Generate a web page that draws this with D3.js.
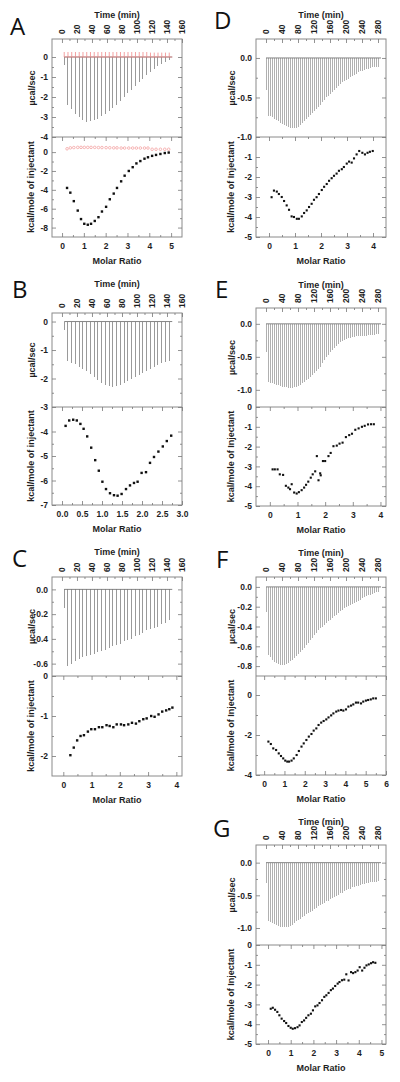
<!DOCTYPE html>
<html><head><meta charset="utf-8">
<script src="https://cdn.jsdelivr.net/npm/d3@7"></script>
<style>body{margin:0;background:#fff}svg{display:block}</style>
</head><body>
<svg id="c" width="400" height="1082"></svg>
<script>
// ---------- DATA ----------
const timeTicksLeft = [0,20,40,60,80,100,120,140,160];
const timeTicksRight = [0,40,80,120,160,200,240,280];

// injection times (min)
const injTimes150 = [3,8,13,18,23,28,33,38,43,48,53,58,63,68,73,78,83,88,93,98,103,108,113,118,123,128,133,138,143];
const injTimes280 = [0,5,10,15,20,25,30,35,40,45,50,55,60,65,70,75,80,85,90,95,100,105,110,115,120,125,130,135,140,145,150,155,160,165,170,175,180,185,190,195,200,205,210,215,220,225,230,235,240,245,250,255,260,265,270,275,280];

// raw heat peaks (µcal/sec)
const peaksA = [-0.4,-2.4,-2.6,-2.85,-3.0,-3.15,-3.25,-3.22,-3.15,-3.08,-2.95,-2.83,-2.7,-2.55,-2.4,-2.2,-2.0,-1.82,-1.65,-1.45,-1.27,-1.08,-0.9,-0.75,-0.6,-0.45,-0.35,-0.25,-0.15];
const peaksARef = [0.25,0.25,0.25,0.25,0.25,0.25,0.25,0.25,0.25,0.25,0.25,0.25,0.25,0.25,0.25,0.25,0.25,0.25,0.25,0.25,0.25,0.25,0.25,0.22,0.22,0.22,0.22,0.22,0.22];
const peaksB = [-0.3,-1.4,-1.45,-1.5,-1.58,-1.65,-1.75,-1.85,-1.95,-2.05,-2.15,-2.22,-2.28,-2.3,-2.28,-2.22,-2.15,-2.08,-2.0,-1.95,-1.88,-1.8,-1.73,-1.65,-1.58,-1.52,-1.47,-1.43,-1.4];
const peaksC = [-0.15,-0.62,-0.6,-0.58,-0.56,-0.55,-0.54,-0.53,-0.52,-0.51,-0.5,-0.49,-0.47,-0.46,-0.45,-0.44,-0.42,-0.41,-0.4,-0.38,-0.37,-0.35,-0.33,-0.32,-0.31,-0.3,-0.28,-0.27,-0.25];
const peaksD = [-0.40,-0.73,-0.74,-0.75,-0.77,-0.78,-0.80,-0.82,-0.83,-0.85,
  -0.86,-0.87,-0.88,-0.89,-0.89,-0.88,-0.87,-0.85,-0.82,-0.80,
  -0.77,-0.75,-0.72,-0.70,-0.67,-0.64,-0.62,-0.59,-0.56,-0.53,
  -0.50,-0.48,-0.45,-0.43,-0.40,-0.38,-0.35,-0.33,-0.31,-0.29,
  -0.28,-0.26,-0.24,-0.23,-0.21,-0.20,-0.18,-0.17,-0.16,-0.15,
  -0.14,-0.14,-0.13,-0.12,-0.12,-0.11,-0.11];
const peaksE = [-0.42,-0.88,-0.89,-0.90,-0.91,-0.92,-0.93,-0.94,-0.95,-0.96,
  -0.96,-0.97,-0.97,-0.97,-0.96,-0.95,-0.94,-0.92,-0.90,-0.88,
  -0.85,-0.83,-0.80,-0.77,-0.75,-0.72,-0.69,-0.65,-0.60,-0.55,
  -0.50,-0.47,-0.43,-0.40,-0.37,-0.34,-0.31,-0.28,-0.26,-0.24,
  -0.23,-0.22,-0.21,-0.20,-0.20,-0.19,-0.19,-0.19,-0.18,-0.18,
  -0.18,-0.17,-0.17,-0.17,-0.17,-0.16,-0.16];
const peaksF = [-0.25,-0.69,-0.71,-0.74,-0.76,-0.77,-0.78,-0.79,-0.79,-0.79,
  -0.78,-0.77,-0.75,-0.74,-0.72,-0.70,-0.68,-0.66,-0.64,-0.62,
  -0.59,-0.57,-0.54,-0.52,-0.49,-0.47,-0.44,-0.42,-0.40,-0.38,
  -0.36,-0.34,-0.33,-0.31,-0.29,-0.28,-0.26,-0.24,-0.23,-0.21,
  -0.20,-0.19,-0.18,-0.17,-0.16,-0.15,-0.14,-0.13,-0.11,-0.10,
  -0.09,-0.08,-0.08,-0.07,-0.06,-0.05,-0.05];
const peaksG = [-0.31,-0.90,-0.91,-0.93,-0.94,-0.96,-0.97,-0.98,-0.99,-0.99,
  -0.99,-0.98,-0.97,-0.95,-0.93,-0.90,-0.88,-0.86,-0.83,-0.81,
  -0.79,-0.77,-0.76,-0.74,-0.71,-0.69,-0.67,-0.65,-0.63,-0.61,
  -0.59,-0.58,-0.56,-0.54,-0.52,-0.51,-0.49,-0.47,-0.46,-0.44,
  -0.42,-0.41,-0.40,-0.38,-0.37,-0.36,-0.35,-0.34,-0.33,-0.32,
  -0.31,-0.31,-0.30,-0.30,-0.29,-0.29,-0.28];

// integrated heats (kcal/mole of injectant) vs molar ratio
const ratioA = [0.23,0.38,0.54,0.72,0.87,1.02,1.18,1.33,1.5,1.67,1.83,2.02,2.19,2.37,2.52,2.71,2.87,3.06,3.24,3.41,3.59,3.78,3.94,4.13,4.31,4.51,4.71,4.89];
const heatA = [-3.8,-4.3,-5.2,-6.2,-7.1,-7.6,-7.7,-7.6,-7.3,-6.9,-6.3,-5.8,-5.0,-4.4,-3.8,-3.1,-2.5,-2.0,-1.6,-1.2,-0.95,-0.7,-0.55,-0.4,-0.3,-0.2,-0.1,-0.05];
const heatARef = [0.35,0.45,0.48,0.5,0.5,0.5,0.5,0.5,0.5,0.48,0.48,0.47,0.46,0.45,0.45,0.43,0.43,0.43,0.43,0.43,0.43,0.43,0.43,0.3,0.3,0.3,0.3,0.3];

const ratioB = [0.09,0.18,0.28,0.37,0.46,0.54,0.63,0.73,0.83,0.92,1.01,1.1,1.2,1.3,1.39,1.49,1.6,1.7,1.8,1.89,1.99,2.1,2.2,2.3,2.41,2.52,2.62,2.73];
const heatB = [-3.77,-3.55,-3.52,-3.55,-3.69,-3.89,-4.2,-4.66,-5.17,-5.6,-6.05,-6.35,-6.52,-6.6,-6.62,-6.55,-6.35,-6.2,-6.1,-6.05,-5.69,-5.66,-5.28,-5.04,-4.82,-4.61,-4.39,-4.17];

const ratioC = [0.25,0.37,0.49,0.61,0.73,0.87,0.99,1.12,1.26,1.38,1.53,1.64,1.77,1.89,2.04,2.15,2.3,2.43,2.57,2.69,2.83,2.95,3.11,3.23,3.37,3.5,3.64,3.75,3.86];
const heatC = [-1.98,-1.79,-1.61,-1.5,-1.48,-1.39,-1.33,-1.33,-1.28,-1.28,-1.23,-1.25,-1.28,-1.21,-1.21,-1.23,-1.21,-1.17,-1.19,-1.13,-1.08,-1.06,-1.0,-1.02,-0.96,-0.89,-0.86,-0.83,-0.79];

const ratioD = [0.1,0.19,0.3,0.38,0.49,0.58,0.68,0.77,0.87,0.96,1.07,1.15,1.26,1.35,1.45,1.54,1.64,1.73,1.83,1.92,2.03,2.12,2.22,2.31,2.41,2.5,2.6,2.69,2.8,2.88,2.99,3.08,3.18,3.27,3.37,3.47,3.59,3.69,3.79,3.88,3.99];
const heatD = [-3.01,-2.68,-2.73,-2.85,-3.0,-3.2,-3.42,-3.64,-3.97,-4.0,-4.09,-4.09,-3.97,-3.8,-3.67,-3.5,-3.34,-3.14,-3.01,-2.85,-2.65,-2.49,-2.35,-2.19,-2.06,-1.94,-1.83,-1.69,-1.61,-1.5,-1.33,-1.23,-1.28,-1.07,-0.87,-0.7,-0.79,-0.87,-0.79,-0.74,-0.7];

const ratioE = [0.1,0.18,0.28,0.36,0.48,0.58,0.67,0.73,0.79,0.88,0.97,1.05,1.15,1.24,1.31,1.39,1.48,1.55,1.64,1.7,1.76,1.82,1.84,1.92,2.0,2.12,2.2,2.3,2.42,2.52,2.63,2.75,2.87,2.97,3.09,3.21,3.33,3.43,3.55,3.66,3.76];
const heatE = [-3.15,-3.15,-3.15,-3.4,-3.43,-3.98,-4.07,-4.15,-3.9,-4.32,-4.37,-4.3,-4.2,-4.07,-3.93,-3.77,-3.57,-3.4,-3.25,-2.48,-3.7,-3.35,-3.45,-2.73,-2.73,-2.48,-2.32,-1.98,-1.95,-1.85,-1.8,-1.52,-1.42,-1.35,-1.15,-1.08,-1.0,-0.95,-0.88,-0.87,-0.87];

const ratioF = [0.21,0.33,0.45,0.59,0.72,0.83,0.94,1.04,1.14,1.23,1.35,1.46,1.6,1.71,1.84,1.95,2.08,2.2,2.33,2.44,2.57,2.68,2.81,2.93,3.06,3.17,3.3,3.41,3.55,3.66,3.79,3.9,4.03,4.15,4.28,4.39,4.52,4.63,4.77,4.88,5.01,5.12,5.25,5.37,5.5];
const heatF = [-2.33,-2.45,-2.67,-2.75,-2.92,-3.05,-3.17,-3.28,-3.33,-3.33,-3.28,-3.17,-3.0,-2.8,-2.58,-2.42,-2.25,-2.08,-1.95,-1.78,-1.67,-1.5,-1.38,-1.3,-1.22,-1.12,-1.02,-0.92,-0.83,-0.78,-0.75,-0.78,-0.72,-0.58,-0.53,-0.47,-0.38,-0.38,-0.42,-0.33,-0.28,-0.25,-0.22,-0.17,-0.17];

const ratioG = [0.12,0.21,0.31,0.41,0.5,0.6,0.71,0.8,0.9,1.0,1.09,1.19,1.3,1.39,1.49,1.59,1.68,1.78,1.89,1.98,2.08,2.18,2.27,2.38,2.48,2.57,2.67,2.77,2.86,2.96,3.07,3.15,3.26,3.36,3.45,3.55,3.66,3.75,3.85,3.95,4.04,4.15,4.25,4.34,4.44,4.54,4.63,4.73];
const heatG = [-3.22,-3.17,-3.27,-3.38,-3.55,-3.72,-3.84,-3.94,-4.09,-4.18,-4.23,-4.2,-4.15,-4.06,-3.89,-3.81,-3.68,-3.55,-3.47,-3.3,-3.1,-3.05,-2.93,-2.79,-2.62,-2.54,-2.42,-2.28,-2.2,-2.07,-1.95,-1.87,-1.78,-1.75,-1.48,-1.79,-1.37,-1.42,-1.37,-1.29,-1.12,-1.29,-1.15,-1.03,-0.98,-0.92,-0.87,-0.9];

// tick label values
const upTicksA = [0,-1,-2,-3,-4], loTicksA = [0,-2,-4,-6,-8], molTicksA = [0,1,2,3,4,5];
const upTicksB = [0,-1,-2,-3], loTicksB = [-4,-5,-6,-7], molTicksB = [0,0.5,1,1.5,2,2.5,3];
const upTicksC = [0,-0.2,-0.4,-0.6], loTicksC = [0,-1,-2], molTicksC = [0,1,2,3,4];
const upTicksD = [0,-0.5,-1], loTicksD = [-1,-2,-3,-4,-5], molTicksD = [0,1,2,3,4];
const upTicksE = [0,-0.5,-1], loTicksE = [0,-1,-2,-3,-4,-5], molTicksE = [0,1,2,3,4];
const upTicksF = [0,-0.2,-0.4,-0.6,-0.8], loTicksF = [0,-2,-4], molTicksF = [0,1,2,3,4,5,6];
const upTicksG = [0,-0.5,-1], loTicksG = [0,-1,-2,-3,-4,-5], molTicksG = [0,1,2,3,4,5];

// ---------- LAYOUT ----------
const L = {x0:52, x1:182, tDom:[-13.3,160], tOff:17, peakW:1, peakC:"#9a9a9a", dot:2.4};
const R = {x0:256, x1:386, tDom:[-25,300], tOff:21, peakW:1, peakC:"#b0b0b0", dot:2.1};
const int = d => String(d);
const one = d => d.toFixed(1);

const panels = [
 {id:"A", col:L, top:39, mid:137, bot:237, up:[-4,0.9], lo:[-9,1.6], mol:[-0.46,5.5],
  times:injTimes150, peaks:peaksA, ref:peaksARef, rx:ratioA, ry:heatA, refY:heatARef,
  tt:timeTicksLeft, ut:upTicksA, lt:loTicksA, mt:molTicksA, uf:int, mf:int,
  letter:[10,35], titleY:18, inj:"injectant"},
 {id:"B", col:L, top:313, mid:407, bot:505, up:[-3,0.3], lo:[-7,-3], mol:[-0.25,3.0],
  times:injTimes150, peaks:peaksB, rx:ratioB, ry:heatB,
  tt:timeTicksLeft, ut:upTicksB, lt:loTicksB, mt:molTicksB, uf:int, mf:one,
  letter:[12,298], titleY:287, inj:"injectant"},
 {id:"C", col:L, top:577, mid:676, bot:776, up:[-0.7,0.1], lo:[-2.5,0], mol:[-0.4,4.2],
  times:injTimes150, peaks:peaksC, rx:ratioC, ry:heatC,
  tt:timeTicksLeft, ut:upTicksC, lt:loTicksC, mt:molTicksC, uf:one, mf:int,
  letter:[12,567], titleY:555, inj:"injectant"},
 {id:"D", col:R, top:39, mid:137, bot:237, up:[-1,0.24], lo:[-5,0], mol:[-0.5,4.5],
  times:injTimes280, peaks:peaksD, rx:ratioD, ry:heatD,
  tt:timeTicksRight, ut:upTicksD, lt:loTicksD, mt:molTicksD, uf:one, mf:int,
  letter:[214,29], titleY:18, inj:"Injectant"},
 {id:"E", col:R, top:308, mid:407, bot:506, up:[-1.26,0.24], lo:[-5,0], mol:[-0.5,4.2],
  times:injTimes280, peaks:peaksE, rx:ratioE, ry:heatE,
  tt:timeTicksRight, ut:upTicksE, lt:loTicksE, mt:molTicksE, uf:one, mf:int,
  letter:[215,298], titleY:288, inj:"Injectant"},
 {id:"F", col:R, top:577, mid:676, bot:775, up:[-0.9,0.1], lo:[-4,0.95], mol:[-0.4,6.0],
  times:injTimes280, peaks:peaksF, rx:ratioF, ry:heatF,
  tt:timeTicksRight, ut:upTicksF, lt:loTicksF, mt:molTicksF, uf:one, mf:int,
  letter:[216,568], titleY:556, inj:"Injectant"},
 {id:"G", col:R, top:845, mid:945, bot:1044, up:[-1.26,0.27], lo:[-5,0], mol:[-0.53,5.2],
  times:injTimes280, peaks:peaksG, rx:ratioG, ry:heatG,
  tt:timeTicksRight, ut:upTicksG, lt:loTicksG, mt:molTicksG, uf:one, mf:int,
  letter:[213,837], titleY:825, inj:"Injectant"}
];

const svg = d3.select("#c");
const FONT = "'Liberation Sans', Arial, Helvetica, sans-serif";
const TICKC = "#777", FRAMEC = "#8a8a8a", TXT = "#1e1e1e";
const mids = a => a.slice(1).map((v,i)=>(v + a[i])/2);

function styleAxis(g){
  g.select(".domain").remove();
  g.selectAll(".tick line").attr("stroke", TICKC).attr("stroke-width", 0.8);
  g.selectAll("text").attr("font-family", FONT).attr("font-size", 8.5)
    .attr("font-weight", "bold").attr("fill", TXT);
}

panels.forEach(p => {
  const {x0, x1} = p.col;
  const g = svg.append("g");
  const tx = d3.scaleLinear().domain(p.col.tDom).range([x0, x1]);
  const mx = d3.scaleLinear().domain(p.mol).range([x0, x1]);
  const yu = d3.scaleLinear().domain(p.up).range([p.mid, p.top]);
  const yl = d3.scaleLinear().domain(p.lo).range([p.bot, p.mid]);

  // upper: injection peaks
  const pk = p.times.map((t,i)=>({t, v:p.peaks[i]}));
  g.append("g").attr("shape-rendering", "crispEdges").selectAll("line").data(pk).join("line")
    .attr("x1", d=>tx(d.t)).attr("x2", d=>tx(d.t))
    .attr("y1", yu(0)).attr("y2", d=>yu(d.v))
    .attr("stroke", p.col.peakC).attr("stroke-width", p.col.peakW);
  g.append("line").attr("x1", tx(p.times[0])).attr("x2", tx(p.times[p.times.length-1]) + 3)
    .attr("y1", yu(0)).attr("y2", yu(0)).attr("stroke", "#777").attr("stroke-width", 0.9);

  if (p.ref) {
    const rk = p.times.map((t,i)=>({t, v:p.ref[i]}));
    g.append("g").selectAll("line").data(rk).join("line")
      .attr("x1", d=>tx(d.t)).attr("x2", d=>tx(d.t))
      .attr("y1", yu(0)).attr("y2", d=>yu(d.v))
      .attr("stroke", "#f08a8a").attr("stroke-width", 0.8);
    g.append("line").attr("x1", tx(p.times[0])).attr("x2", tx(p.times[p.times.length-1]) + 3)
      .attr("y1", yu(0)).attr("y2", yu(0)).attr("stroke", "#f08a8a").attr("stroke-width", 0.8);
    g.append("g").selectAll("circle").data(p.rx.map((r,i)=>({r, v:p.refY[i]}))).join("circle")
      .attr("cx", d=>mx(d.r)).attr("cy", d=>yl(d.v)).attr("r", 1.3)
      .attr("fill", "none").attr("stroke", "#f29a9a").attr("stroke-width", 0.7);
  }

  // lower: integrated heats
  const s = p.col.dot;
  g.append("g").selectAll("rect").data(p.rx.map((r,i)=>({r, v:p.ry[i]}))).join("rect")
    .attr("x", d=>mx(d.r) - s/2).attr("y", d=>yl(d.v) - s/2)
    .attr("width", s).attr("height", s).attr("fill", "#111");

  // frames
  g.append("rect").attr("x", x0).attr("y", p.top).attr("width", x1-x0).attr("height", p.bot-p.top)
    .attr("fill", "none").attr("stroke", FRAMEC).attr("stroke-width", 1);
  g.append("line").attr("x1", x0).attr("x2", x1).attr("y1", p.mid).attr("y2", p.mid)
    .attr("stroke", FRAMEC).attr("stroke-width", 1);

  // top time axis
  const ta = g.append("g").attr("transform", `translate(0,${p.top})`)
    .call(d3.axisTop(tx).tickValues(p.tt).tickSize(-4).tickFormat(int));
  styleAxis(ta);
  ta.selectAll("text").attr("transform", "rotate(-90)").attr("x", 5).attr("y", 0)
    .attr("dy", "0.33em").attr("text-anchor", "start");
  styleAxis(g.append("g").attr("transform", `translate(0,${p.top})`)
    .call(d3.axisTop(tx).tickValues(mids(p.tt)).tickSize(-2).tickFormat("")));

  // upper y axes
  styleAxis(g.append("g").attr("transform", `translate(${x0},0)`)
    .call(d3.axisLeft(yu).tickValues(p.ut).tickSize(-4).tickPadding(4).tickFormat(p.uf)));
  styleAxis(g.append("g").attr("transform", `translate(${x1},0)`)
    .call(d3.axisRight(yu).tickValues(p.ut).tickSize(-4).tickFormat("")));
  const um = mids(p.ut);
  styleAxis(g.append("g").attr("transform", `translate(${x0},0)`)
    .call(d3.axisLeft(yu).tickValues(um).tickSize(-2).tickFormat("")));
  styleAxis(g.append("g").attr("transform", `translate(${x1},0)`)
    .call(d3.axisRight(yu).tickValues(um).tickSize(-2).tickFormat("")));

  // lower y axes
  styleAxis(g.append("g").attr("transform", `translate(${x0},0)`)
    .call(d3.axisLeft(yl).tickValues(p.lt).tickSize(-4).tickPadding(4).tickFormat(int)));
  styleAxis(g.append("g").attr("transform", `translate(${x1},0)`)
    .call(d3.axisRight(yl).tickValues(p.lt).tickSize(-4).tickFormat("")));
  const lm = mids(p.lt);
  styleAxis(g.append("g").attr("transform", `translate(${x0},0)`)
    .call(d3.axisLeft(yl).tickValues(lm).tickSize(-2).tickFormat("")));
  styleAxis(g.append("g").attr("transform", `translate(${x1},0)`)
    .call(d3.axisRight(yl).tickValues(lm).tickSize(-2).tickFormat("")));

  // bottom molar axis + mirrored at mid
  styleAxis(g.append("g").attr("transform", `translate(0,${p.bot})`)
    .call(d3.axisBottom(mx).tickValues(p.mt).tickSize(-4).tickPadding(6).tickFormat(p.mf)));
  styleAxis(g.append("g").attr("transform", `translate(0,${p.mid})`)
    .call(d3.axisBottom(mx).tickValues(p.mt).tickSize(4).tickFormat("")));
  const mm = mids(p.mt);
  styleAxis(g.append("g").attr("transform", `translate(0,${p.bot})`)
    .call(d3.axisBottom(mx).tickValues(mm).tickSize(-2).tickFormat("")));
  styleAxis(g.append("g").attr("transform", `translate(0,${p.mid})`)
    .call(d3.axisBottom(mx).tickValues(mm).tickSize(2).tickFormat("")));

  // titles
  const cx = (x0 + x1) / 2;
  const title = (x, y, txt, rot) => g.append("text")
    .attr("transform", rot ? `translate(${x},${y}) rotate(-90)` : `translate(${x},${y})`)
    .attr("text-anchor", "middle").attr("font-family", FONT).attr("font-size", 9)
    .attr("font-weight", "bold").attr("fill", TXT).text(txt);
  title(cx, p.titleY, "Time (min)", false);
  title(cx, p.bot + 27, "Molar Ratio", false);
  title(x0 - p.col.tOff, (p.top + p.mid) / 2, "µcal/sec", true);
  title(x0 - p.col.tOff - 1, (p.mid + p.bot) / 2, "kcal/mole of " + p.inj, true);

  g.append("text").attr("x", p.letter[0]).attr("y", p.letter[1])
    .attr("font-family", "'Open Sans', 'Noto Sans', sans-serif").attr("font-size", 24)
    .attr("fill", "#111").text(p.id);
});
</script>
</body></html>
